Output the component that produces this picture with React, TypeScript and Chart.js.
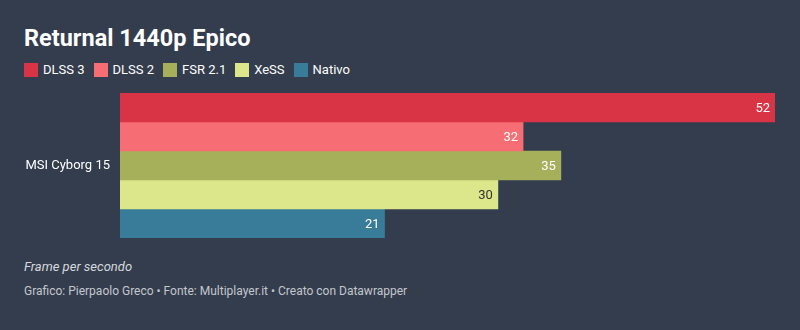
import React, { useEffect, useRef } from "react";
import { Chart, registerables } from "chart.js";

Chart.register(...registerables);

const categories = ["MSI Cyborg 15"];
const seriesNames = ["DLSS 3", "DLSS 2", "FSR 2.1", "XeSS", "Nativo"];
const seriesValues = [[52], [32], [35], [30], [21]];
const seriesColors = ["#d93446", "#f66d73", "#a6b05a", "#dce68a", "#387c99"];
const labelColors = ["#ffffff", "#ffffff", "#ffffff", "#333333", "#ffffff"];

const BG = "#333d4e";
const FONT = "Roboto, 'Noto Sans', sans-serif";

const valueLabels = {
  id: "valueLabels",
  afterDatasetsDraw(chart: any) {
    const ctx = chart.ctx;
    ctx.save();
    ctx.font = `13px ${FONT}`;
    ctx.textAlign = "right";
    ctx.textBaseline = "middle";
    chart.data.datasets.forEach((ds: any, i: number) => {
      const meta = chart.getDatasetMeta(i);
      meta.data.forEach((bar: any, j: number) => {
        ctx.fillStyle = labelColors[i];
        ctx.fillText(String(ds.data[j]), bar.x - 5, bar.y + 1);
      });
    });
    ctx.restore();
  },
};

export default function App() {
  const ref = useRef<HTMLCanvasElement>(null);
  useEffect(() => {
    document.body.style.margin = "0";
    const chart = new Chart(ref.current!, {
      type: "bar",
      data: {
        labels: categories,
        datasets: seriesNames.map((n, i) => ({
          label: n,
          data: seriesValues[i],
          backgroundColor: seriesColors[i],
          borderWidth: 0,
          categoryPercentage: 1,
          barPercentage: 1,
        })),
      },
      options: {
        indexAxis: "y",
        animation: false,
        responsive: false,
        maintainAspectRatio: false,
        datasets: { bar: { categoryPercentage: 1, barPercentage: 1 } },
        layout: { padding: { left: 0, right: 25, top: 0, bottom: 0 } },
        plugins: { legend: { display: false }, tooltip: { enabled: false } },
        scales: {
          x: { display: false, min: 0, max: 52 },
          y: {
            grid: { display: false, drawTicks: false },
            border: { display: false },
            ticks: { color: "#ffffff", font: { family: FONT, size: 13 }, padding: 10 },
            afterFit: (s: any) => {
              s.width = 120;
              s.paddingTop = 0;
              s.paddingBottom = 0;
            },
          },
        },
      },
      plugins: [valueLabels],
    });
    return () => chart.destroy();
  }, []);

  return (
    <div
      style={{
        position: "fixed",
        left: 0,
        top: 0,
        width: 800,
        height: 330,
        background: BG,
        fontFamily: FONT,
        overflow: "hidden",
      }}
    >
      <div
        style={{
          position: "absolute",
          left: 24,
          top: 22,
          fontSize: 23.5,
          fontWeight: 700,
          color: "#ffffff",
          lineHeight: "32px",
        }}
      >
        Returnal 1440p Epico
      </div>
      <div style={{ position: "absolute", left: 24, top: 62, display: "flex", alignItems: "center", fontSize: 13, color: "#ffffff" }}>
        {seriesNames.map((n, i) => (
          <div key={n} style={{ display: "flex", alignItems: "center", marginRight: 9 }}>
            <span style={{ display: "inline-block", width: 14, height: 14, background: seriesColors[i], marginRight: 5 }} />
            <span>{n}</span>
          </div>
        ))}
      </div>
      <canvas ref={ref} width={800} height={145} style={{ position: "absolute", left: 0, top: 93, width: 800, height: 145 }} />
      <div style={{ position: "absolute", left: 24, top: 259, fontSize: 13, fontStyle: "italic", color: "#d6d8dc" }}>
        Frame per secondo
      </div>
      <div style={{ position: "absolute", left: 24, top: 284, fontSize: 12, color: "#c4c7cc" }}>
        Grafico: Pierpaolo Greco • Fonte: Multiplayer.it • Creato con Datawrapper
      </div>
    </div>
  );
}
